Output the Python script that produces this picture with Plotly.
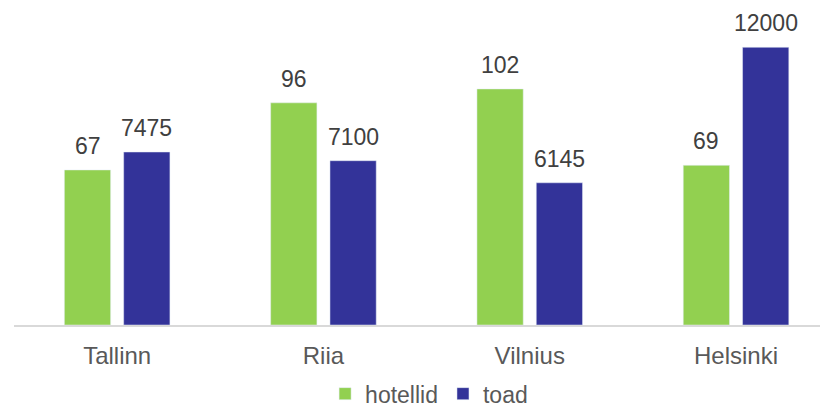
import plotly.graph_objects as go

categories = ["Tallinn", "Riia", "Vilnius", "Helsinki"]
hotellid = [67, 96, 102, 69]
toad = [7475, 7100, 6145, 12000]

GREEN = "#92D050"
NAVY = "#333399"
FONT = "Liberation Sans, Arial, sans-serif"

xpos = list(range(len(categories)))

fig = go.Figure()
fig.add_trace(go.Bar(x=xpos, y=hotellid, name="hotellid", marker_color=GREEN,
                     offsetgroup="a", yaxis="y", hoverinfo="skip"))
fig.add_trace(go.Bar(x=xpos, y=toad, name="toad", marker_color=NAVY,
                     offsetgroup="b", yaxis="y2", hoverinfo="skip"))

ann = []
off = 0.1435
for i, v in enumerate(hotellid):
    ann.append(dict(x=xpos[i] - off, y=v, xref="x", yref="y", text=str(v),
                    showarrow=False, yanchor="bottom", yshift=9,
                    font=dict(size=23, color="#404040", family=FONT)))
for i, v in enumerate(toad):
    ann.append(dict(x=xpos[i] + off, y=v, xref="x", yref="y2", text=str(v),
                    showarrow=False, yanchor="bottom", yshift=9,
                    font=dict(size=23, color="#404040", family=FONT)))

fig.update_layout(
    width=820, height=405,
    margin=dict(l=14, r=0, t=1, b=80, autoexpand=False),
    paper_bgcolor="white", plot_bgcolor="white",
    barmode="group", bargap=0.425, bargroupgap=0.22,
    font=dict(family=FONT, color="#595959", size=23),
    xaxis=dict(tickvals=xpos, ticktext=categories, range=[-0.5, 3.407],
               showline=True, linecolor="#D9D9D9", linewidth=2,
               showgrid=False, zeroline=False, ticks="",
               ticklabelstandoff=8, automargin=False,
               tickfont=dict(size=24, color="#595959", family=FONT)),
    yaxis=dict(range=[0, 140], visible=False, showgrid=False, automargin=False),
    yaxis2=dict(range=[0, 14000], visible=False, showgrid=False,
                overlaying="y", side="right", automargin=False),
    legend=dict(orientation="h", x=0.515, xanchor="center", y=-0.212,
                yanchor="middle", font=dict(size=23, color="#595959", family=FONT),
                itemwidth=30, traceorder="normal"),
    annotations=ann,
    showlegend=True,
)

fig.write_html("out.html", config={"displayModeBar": False},
               post_script="document.body.style.margin='0px';document.body.style.overflow='hidden';")
